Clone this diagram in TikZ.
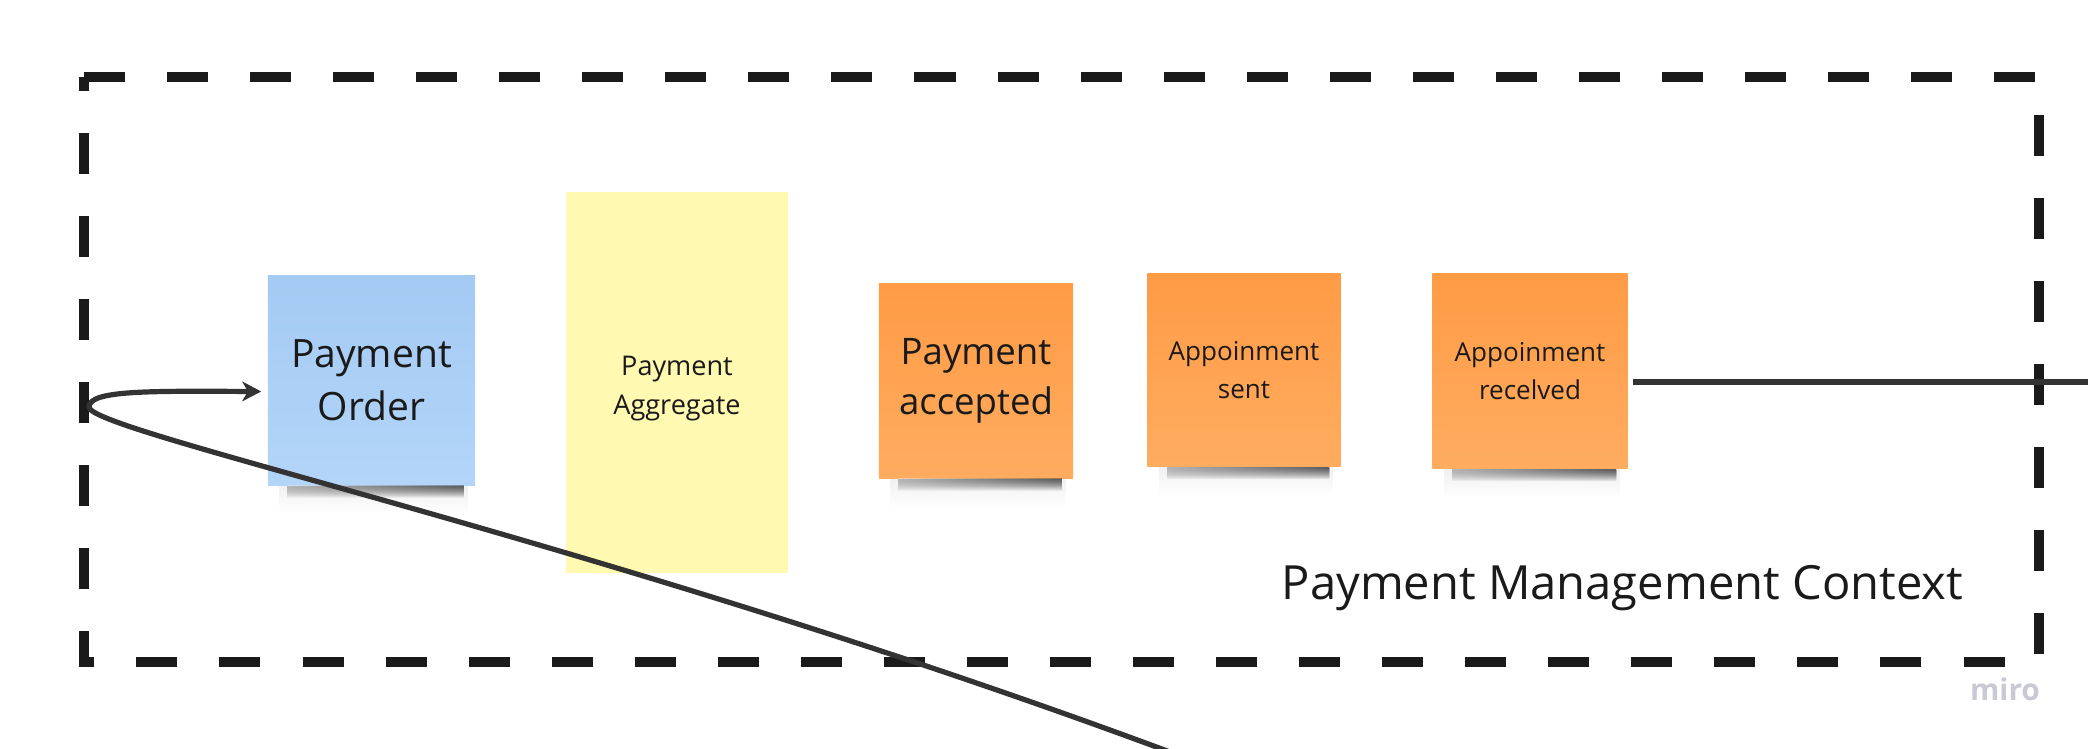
\documentclass[tikz,border=0pt]{standalone}
\usepackage{fontspec}
\setmainfont{Open Sans}
\usetikzlibrary{calc,arrows.meta,fadings}
\definecolor{ink}{HTML}{1A1A1A}
\definecolor{wire}{HTML}{333333}
\definecolor{bluetop}{HTML}{A5CAF3}
\definecolor{bluebot}{HTML}{B2D5F8}
\definecolor{pale}{HTML}{FFF9B1}
\definecolor{orgtop}{HTML}{FF9B45}
\definecolor{orgbot}{HTML}{FFAC60}
\definecolor{brandgrey}{HTML}{C9C9D6}
\tikzfading[name=shadowfade,top color=transparent!0,bottom color=transparent!100]
\tikzset{
  sticky/.style={minimum width=#1,minimum height=#1,inner sep=0pt,align=center,text=ink},
  event/.style={sticky=#1,top color=orgtop,bottom color=orgbot,font=\fontsize{7.4}{10.6}\selectfont},
  halo/.style={fill=black,opacity=0.06,path fading=shadowfade},
  shadowbar/.style={left color=black!5,right color=black!75,opacity=0.5,path fading=shadowfade},
  link/.style={wire,line width=0.052cm},
}

\begin{document}
\begin{tikzpicture}[x=0.01cm,y=-0.01cm]
\useasboundingbox (0,0) rectangle (2088,748);
% bounded context
\draw[ink,line width=0.1cm,dash pattern=on 0.41cm off 0.42cm,line join=miter]
  (84,77) -- (2039,77) -- (2039,662) -- (84,662) -- cycle;
\node[font=\fontsize{13.4}{16}\selectfont,text=ink,anchor=base west,inner sep=0pt] (ctxname) at (1281,599) {Payment Management Context};
% stickies
\node[sticky=2.07cm,minimum height=2.09cm,top color=bluetop,bottom color=bluebot,font=\fontsize{11.1}{15}\selectfont] (order) at (371.5,380.5) {Payment\\Order};
\node[sticky=2.22cm,minimum height=3.81cm,fill=pale,font=\fontsize{7.7}{11}\selectfont] (agg) at (677,382.5) {\rule{0pt}{9pt}Payment\\Aggregate};
\node[event=1.94cm,font=\fontsize{10.4}{14.4}\selectfont] (acc) at (976,381) {Payment\\accepted};
\node[event=1.93cm] (sent) at (1244,370) {Appoinment\\sent};
\node[event=1.95cm] (recv) at (1530,371) {Appoinment\\recelved};
\fill[halo] ($(order.south west)+(12,0)$) rectangle ($(order.south east)+(-8,28)$);
\fill[halo] ($(acc.south west)+(12,0)$) rectangle ($(acc.south east)+(-8,28)$);
\fill[halo] ($(sent.south west)+(12,0)$) rectangle ($(sent.south east)+(-8,28)$);
\fill[halo] ($(recv.south west)+(12,0)$) rectangle ($(recv.south east)+(-8,28)$);
\fill[shadowbar] ($(order.south west)+(20,0)$) rectangle ($(order.south east)+(-12,12)$);
\fill[shadowbar] ($(acc.south west)+(20,0)$) rectangle ($(acc.south east)+(-12,12)$);
\fill[shadowbar] ($(sent.south west)+(20,0)$) rectangle ($(sent.south east)+(-12,12)$);
\fill[shadowbar] ($(recv.south west)+(20,0)$) rectangle ($(recv.south east)+(-12,12)$);
% connectors
\coordinate (loop) at (89,407);
\coordinate (tail) at (1170,752);
\coordinate (exit) at (2088,382);
\draw[link,-{Stealth[length=5.4pt,width=5.6pt,inset=1.6pt]}] (tail) .. controls (600,540) and (89,432) .. (loop)
  .. controls (89,390) and (150,391) .. ($(order.west)+(-6,11)$);
\draw[link] ($(recv.east)+(5,11)$) -- (exit);
\node[font=\fontsize{8.5}{10}\selectfont\bfseries,text=brandgrey,inner sep=0pt] (brand) at (2005,689) {miro};
\end{tikzpicture}
\end{document}
